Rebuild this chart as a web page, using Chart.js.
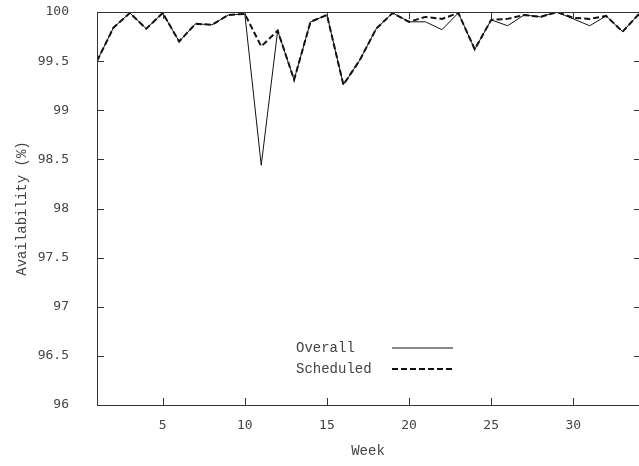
<!DOCTYPE html>
<html>
<head>
<meta charset="utf-8">
<script src="https://cdn.jsdelivr.net/npm/chart.js@4.4.1/dist/chart.umd.min.js"></script>
<style>
    html, body { margin: 0; padding: 0; background: #fff; }
    #wrap { width: 639px; height: 466px; }
</style>
</head>
<body>
<div id="wrap"><canvas id="chart" width="639" height="466"></canvas></div>
<script>
const weeks = [1, 2, 3, 4, 5, 6, 7, 8, 9, 10, 11, 12, 13, 14, 15, 16, 17, 18, 19, 20, 21, 22, 23, 24, 25, 26, 27, 28, 29, 30, 31, 32, 33, 34];
const overall = [99.50, 99.84, 99.99, 99.83, 99.99, 99.70, 99.88, 99.87, 99.97, 99.98, 98.44, 99.81, 99.31, 99.90, 99.97, 99.26, 99.51, 99.83, 99.99, 99.90, 99.90, 99.82, 99.99, 99.62, 99.92, 99.86, 99.97, 99.95, 100.0, 99.93, 99.86, 99.96, 99.80, 99.98];
const scheduled = [99.50, 99.84, 99.99, 99.83, 99.99, 99.70, 99.88, 99.87, 99.97, 99.98, 99.65, 99.81, 99.31, 99.90, 99.97, 99.26, 99.51, 99.83, 99.99, 99.90, 99.95, 99.93, 99.99, 99.62, 99.92, 99.93, 99.97, 99.95, 100.0, 99.94, 99.93, 99.96, 99.80, 99.98];
const xTicks = [5, 10, 15, 20, 25, 30];

const INK = "#111";
const TEXT = "#444";

function toPoints(values) {
    return weeks.map((w, i) => ({ x: w, y: values[i] }));
}

//draws the closed frame, inward ticks on all four sides and the key inside the plot
const frameAndKey = {
    id: "frameAndKey",
    afterDatasetsDraw(chart, args, opts) {
        const { ctx, chartArea: a, scales } = chart;
        ctx.save();
        ctx.strokeStyle = "#333";
        ctx.lineWidth = 1;
        ctx.strokeRect(a.left + 0.5, a.top + 0.5, a.right - a.left, a.bottom - a.top);
        ctx.beginPath();
        scales.x.ticks.forEach(t => {
            const px = Math.round(scales.x.getPixelForValue(t.value)) + 0.5;
            ctx.moveTo(px, a.bottom);
            ctx.lineTo(px, a.bottom - 7);
            ctx.moveTo(px, a.top);
            ctx.lineTo(px, a.top + 7);
        });
        scales.y.ticks.forEach(t => {
            const py = Math.round(scales.y.getPixelForValue(t.value)) + 0.5;
            ctx.moveTo(a.left, py);
            ctx.lineTo(a.left + 7, py);
            ctx.moveTo(a.right, py);
            ctx.lineTo(a.right - 5, py);
        });
        ctx.stroke();

        //key
        ctx.font = opts.font;
        ctx.fillStyle = TEXT;
        ctx.textBaseline = "middle";
        chart.data.datasets.forEach((ds, i) => {
            const y = opts.top + i * opts.rowGap;
            ctx.fillText(ds.label, opts.textX, y);
            ctx.beginPath();
            ctx.strokeStyle = ds.borderColor;
            ctx.lineWidth = ds.borderWidth;
            ctx.setLineDash(ds.borderDash || []);
            ctx.moveTo(opts.sampleX, y);
            ctx.lineTo(opts.sampleX + opts.sampleW, y);
            ctx.stroke();
        });
        ctx.restore();
    }
};

const ctx = document.getElementById("chart").getContext("2d");
const chart = new Chart(ctx, {
    type: "line",
    data: {
        datasets: [
            {
                label: "Overall",
                data: toPoints(overall),
                borderColor: INK,
                borderWidth: 1,
                pointRadius: 0,
                tension: 0,
                fill: false
            },
            {
                label: "Scheduled",
                data: toPoints(scheduled),
                borderColor: INK,
                borderWidth: 2,
                borderDash: [6, 3],
                pointRadius: 0,
                tension: 0,
                fill: false
            }
        ]
    },
    options: {
        responsive: false,
        animation: false,
        layout: { padding: { top: 12, right: 0, left: 0, bottom: 0 } },
        plugins: {
            legend: { display: false },
            tooltip: { enabled: false },
            frameAndKey: {
                font: "14px 'Liberation Mono'",
                textX: 296,
                sampleX: 392,
                sampleW: 61,
                top: 348,
                rowGap: 21
            }
        },
        scales: {
            x: {
                type: "linear",
                min: 1,
                max: 34,
                afterBuildTicks: scale => { scale.ticks = xTicks.map(v => ({ value: v })); },
                afterFit: scale => {
                    scale.height = 61;
                    scale.paddingLeft = 0;
                    scale.paddingRight = 0;
                },
                grid: { display: false, drawTicks: false },
                border: { display: false },
                ticks: { padding: 13, color: TEXT, font: { family: "DejaVu Sans Mono", size: 13 } },
                title: {
                    display: true,
                    text: "Week",
                    color: TEXT,
                    font: { family: "Liberation Mono", size: 14 },
                    padding: { top: 0, bottom: 6 }
                }
            },
            y: {
                min: 96,
                max: 100,
                afterFit: scale => {
                    scale.width = 97;
                    scale.paddingTop = 0;
                    scale.paddingBottom = 0;
                },
                grid: { display: false, drawTicks: false },
                border: { display: false },
                ticks: {
                    stepSize: 0.5,
                    padding: 28,
                    color: TEXT,
                    font: { family: "DejaVu Sans Mono", size: 13 },
                    callback: v => String(+v.toFixed(1))
                },
                title: {
                    display: true,
                    text: "Availability (%)",
                    color: TEXT,
                    font: { family: "Liberation Mono", size: 14 },
                    padding: { top: 14, bottom: 0 }
                }
            }
        }
    },
    plugins: [frameAndKey]
});
</script>
</body>
</html>
